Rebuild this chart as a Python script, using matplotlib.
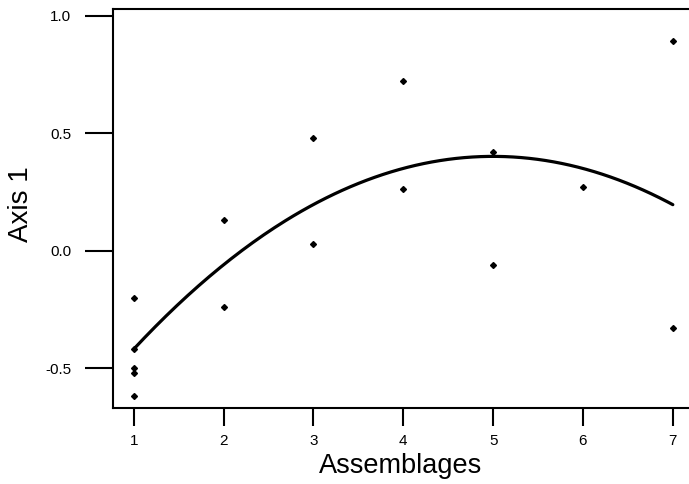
import numpy as np
from matplotlib import pyplot as plt

plt.rcParams['font.family'] = ['Liberation Sans', 'DejaVu Sans']

# scatter readings
assemblage = [1, 1, 1, 1, 1, 2, 2, 3, 3, 4, 4, 5, 5, 6, 7, 7]
axis1 = [-0.20, -0.42, -0.50, -0.52, -0.62, 0.13, -0.24, 0.48, 0.03,
         0.72, 0.26, 0.42, -0.06, 0.27, 0.89, -0.33]

# trend line read at each assemblage
trend_x = [1, 2, 3, 4, 5, 6, 7]
trend_y = [-0.42, -0.06, 0.195, 0.35, 0.40, 0.35, 0.195]

xticks = [1, 2, 3, 4, 5, 6, 7]
yticks = [-0.5, 0.0, 0.5, 1.0]

fig = plt.figure(figsize=(6.89, 4.84), dpi=100)
ax = fig.add_axes([0.164, 0.157, 0.836, 0.824])

coef = np.polyfit(trend_x, trend_y, 2)
xs = np.linspace(trend_x[0], trend_x[-1], 200)
ax.plot(xs, np.polyval(coef, xs), color='black', lw=2.3, solid_capstyle='round')
ax.plot(assemblage, axis1, 'D', color='black', ms=3)

ax.set_xlim(0.77, 7.18)
ax.set_ylim(-0.67, 1.027)
ax.set_xticks(xticks)
ax.set_xticklabels([str(t) for t in xticks])
ax.set_yticks(yticks)
ax.set_yticklabels(['%.1f' % t for t in yticks])

ax.spines['right'].set_visible(False)
for s in ['left', 'bottom', 'top']:
    ax.spines[s].set_linewidth(1.5)

ax.tick_params(axis='x', length=13, width=1.5, pad=6, labelsize=11)
ax.tick_params(axis='y', length=20, width=1.5, pad=10, labelsize=11)

ax.set_xlabel('Assemblages', fontsize=19.5, labelpad=3)
ax.set_ylabel('Axis 1', fontsize=20, va='center', ha='center')
ax.yaxis.set_label_coords(-0.159, 0.511)

plt.savefig('out.png', dpi=100)
